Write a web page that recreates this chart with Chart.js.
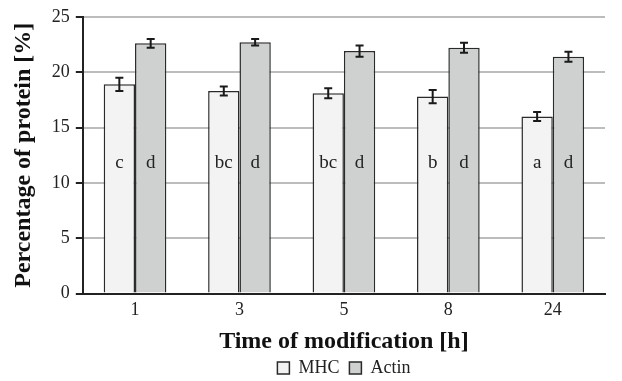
<!DOCTYPE html>
<html>
<head>
<meta charset="utf-8">
<script src="https://cdn.jsdelivr.net/npm/chart.js@4/dist/chart.umd.min.js"></script>
<style>
  html, body { margin: 0; padding: 0; background: #fff; }
  #wrap { width: 622px; height: 381px; }
</style>
</head>
<body>
<div id="wrap"><canvas id="chart" width="622" height="381"></canvas></div>
<script>
// data
var categories = ['1', '3', '5', '8', '24'];
var mhcValues = [18.9, 18.3, 18.1, 17.8, 16.0];
var actinValues = [22.6, 22.7, 21.9, 22.2, 21.4];
var mhcErrors = [0.6, 0.4, 0.45, 0.6, 0.4];
var actinErrors = [0.4, 0.3, 0.5, 0.45, 0.45];
var mhcLetters = ['c', 'bc', 'bc', 'b', 'a'];
var actinLetters = ['d', 'd', 'd', 'd', 'd'];
var letterLevel = 11.8;

var serif = "'Liberation Serif', 'Times New Roman', serif";

// draws error bars and the significance letters
var extrasPlugin = {
    id: 'extras',
    afterDatasetsDraw: function(chart) {
        var ctx = chart.ctx;
        var yScale = chart.scales.y;
        ctx.save();
        chart.data.datasets.forEach(function(ds, di) {
            var meta = chart.getDatasetMeta(di);
            meta.data.forEach(function(bar, i) {
                var v = ds.data[i], e = ds.errors[i];
                var yt = yScale.getPixelForValue(v + e);
                var yb = yScale.getPixelForValue(v - e);
                ctx.strokeStyle = '#1a1a1a';
                ctx.lineWidth = 2;
                ctx.beginPath();
                ctx.moveTo(bar.x, yt); ctx.lineTo(bar.x, yb);
                ctx.moveTo(bar.x - 4, yt); ctx.lineTo(bar.x + 4, yt);
                ctx.moveTo(bar.x - 4, yb); ctx.lineTo(bar.x + 4, yb);
                ctx.stroke();

                ctx.fillStyle = '#222';
                ctx.font = '19px ' + serif;
                ctx.textAlign = 'center';
                ctx.textBaseline = 'middle';
                ctx.fillText(ds.letters[i], bar.x, yScale.getPixelForValue(letterLevel));
            });
        });
        ctx.restore();
    }
};

new Chart(document.getElementById('chart'), {
    type: 'bar',
    data: {
        labels: categories,
        datasets: [
            {
                label: 'MHC',
                data: mhcValues,
                errors: mhcErrors,
                letters: mhcLetters,
                backgroundColor: '#f3f3f3',
                borderColor: '#2a2a2a',
                borderWidth: 1.5
            },
            {
                label: 'Actin',
                data: actinValues,
                errors: actinErrors,
                letters: actinLetters,
                backgroundColor: '#cfd1d0',
                borderColor: '#2a2a2a',
                borderWidth: 1.5
            }
        ]
    },
    options: {
        responsive: false,
        animation: false,
        devicePixelRatio: 1,
        categoryPercentage: 0.6,
        barPercentage: 1.0,
        layout: { padding: { left: 9, right: 17, top: 8, bottom: -6 } },
        plugins: {
            legend: {
                position: 'bottom',
                fullSize: false,
                labels: {
                    boxWidth: 12,
                    boxHeight: 12,
                    padding: 10,
                    color: '#222',
                    font: { family: serif, size: 18 }
                }
            },
            tooltip: { enabled: false }
        },
        scales: {
            x: {
                grid: { display: false, drawTicks: false },
                border: { color: '#222', width: 2 },
                ticks: { color: '#222', padding: 6, font: { family: serif, size: 18 } },
                title: {
                    display: true,
                    text: 'Time of modification [h]',
                    color: '#111',
                    padding: { top: 0, bottom: -7 },
                    font: { family: serif, size: 24, weight: 'bold' }
                }
            },
            y: {
                min: 0,
                max: 25,
                ticks: { stepSize: 5, color: '#222', padding: 6, font: { family: serif, size: 18 } },
                grid: { color: '#bcbcbc', lineWidth: 2, tickColor: '#222', tickLength: 7 },
                border: { color: '#222', width: 2 },
                title: {
                    display: true,
                    text: 'Percentage of protein [%]',
                    color: '#111',
                    padding: { top: 0, bottom: 8 },
                    font: { family: serif, size: 24, weight: 'bold' }
                }
            }
        }
    },
    plugins: [extrasPlugin]
});
</script>
</body>
</html>
